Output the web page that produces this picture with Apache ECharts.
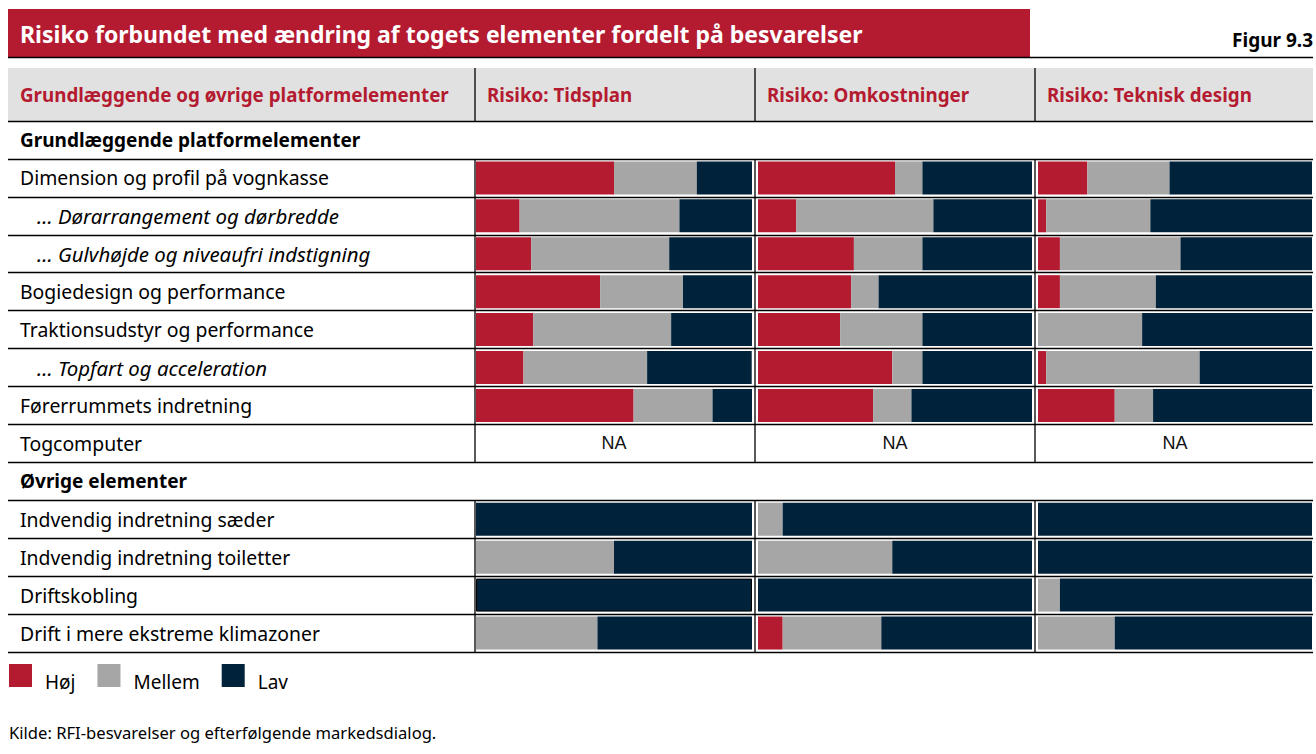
<!DOCTYPE html>
<html><head><meta charset="utf-8">
<script src="https://cdn.jsdelivr.net/npm/echarts@6/dist/echarts.min.js"></script>
<style>html,body{margin:0;padding:0;background:#fff}#c{width:1316px;height:754px}</style>
</head><body><div id="c"></div>
<script>
// ---------- data ----------
const chartTitle = 'Risiko forbundet med ændring af togets elementer fordelt på besvarelser';
const figureLabel = 'Figur 9.3';
const sourceNote = 'Kilde: RFI-besvarelser og efterfølgende markedsdialog.';
const columnTitles = ['Grundlæggende og øvrige platformelementer', 'Risiko: Tidsplan', 'Risiko: Omkostninger', 'Risiko: Teknisk design'];
const levelNames = ['Høj', 'Mellem', 'Lav'];
const naText = 'NA';
const rowLabels = [
  'Grundlæggende platformelementer',
  'Dimension og profil på vognkasse',
  '… Dørarrangement og dørbredde',
  '… Gulvhøjde og niveaufri indstigning',
  'Bogiedesign og performance',
  'Traktionsudstyr og performance',
  '… Topfart og acceleration',
  'Førerrummets indretning',
  'Togcomputer',
  'Øvrige elementer',
  'Indvendig indretning sæder',
  'Indvendig indretning toiletter',
  'Driftskobling',
  'Drift i mere ekstreme klimazoner'
];
const rowKinds = ['section', 'main', 'sub', 'sub', 'main', 'main', 'sub', 'main', 'main', 'section', 'main', 'main', 'main', 'main'];

// Risiko: Tidsplan (share of answers, %)
const tidsplanHoej   = [null, 50, 15.8, 20, 45, 20.7, 17.2, 57.1, null, null, 0, 0, 0, 0];
const tidsplanMellem = [null, 30, 57.9, 50, 30, 50, 44.8, 28.6, null, null, 0, 50, 0, 44];
const tidsplanLav    = [null, 20, 26.3, 30, 25, 29.3, 37.9, 14.3, null, null, 100, 50, 100, 56];
// Risiko: Omkostninger
const omkHoej   = [null, 50, 14, 35, 34, 30, 49, 42, null, null, 0, 0, 0, 9];
const omkMellem = [null, 10, 50, 25, 10, 30, 11, 14, null, null, 9, 49, 0, 36];
const omkLav    = [null, 40, 36, 40, 56, 40, 40, 44, null, null, 91, 51, 100, 55];
// Risiko: Teknisk design
const tekHoej   = [null, 18, 3, 8, 8, 0, 3, 28, null, null, 0, 0, 0, 0];
const tekMellem = [null, 30, 38, 44, 35, 38, 56, 14, null, null, 0, 0, 8, 28];
const tekLav    = [null, 52, 59, 48, 57, 62, 41, 58, null, null, 100, 100, 92, 72];

// ---------- layout / style ----------
const FONT = "'Noto Sans', sans-serif";
const levelColors = ['#B41A30', '#A6A6A6', '#00223A'];
const TABLE_L = 8, TABLE_R = 1313, HEAD_T = 68, GRID_T = 121, GRID_H = 531;
const rowH = GRID_H / rowLabels.length;
const colLines = [475, 755, 1035];
const headerTextX = [20, 487, 767, 1047];
const barGrids = [{left: 476, width: 276}, {left: 758, width: 274}, {left: 1038, width: 274}];
const columns = [
  [tidsplanHoej, tidsplanMellem, tidsplanLav],
  [omkHoej, omkMellem, omkLav],
  [tekHoej, tekMellem, tekLav]
];
// cell drawn with a thin black outline in the original (column index, row label)
const outlinedCell = {col: 0, row: 'Driftskobling'};

const grids = [{left: TABLE_L, top: GRID_T, width: TABLE_R - TABLE_L, height: GRID_H}];
barGrids.forEach(g => grids.push({left: g.left, top: GRID_T, width: g.width, height: GRID_H}));

const xAxes = grids.map((g, i) => ({type: 'value', gridIndex: i, min: 0, max: i === 0 ? 1 : 100, show: false}));
const yAxes = grids.map((g, i) => i === 0 ? {
  type: 'category', gridIndex: 0, inverse: true, data: rowLabels,
  axisLine: {show: false}, axisTick: {show: false},
  splitLine: {show: true, lineStyle: {color: '#000', width: 1.3}},
  axisLabel: {
    inside: true, margin: 12, color: '#000', fontFamily: FONT, fontSize: 19.4,
    formatter: (v, idx) => '{' + rowKinds[idx] + '|' + v + '}',
    rich: {
      section: {fontWeight: 'bold', fontSize: 19, fontFamily: FONT, color: '#000'},
      main: {fontSize: 19.4, fontFamily: FONT, color: '#000'},
      sub: {fontStyle: 'italic', fontSize: 20.4, fontFamily: FONT, color: '#000', padding: [0, 0, 0, 17]}
    }
  }
} : {type: 'category', gridIndex: i, inverse: true, data: rowLabels, show: false});

const series = [];
columns.forEach((col, ci) => {
  col.forEach((vals, li) => {
    const data = vals.map((v, ri) => {
      const last = li === col.length - 1;
      if (last && ci === outlinedCell.col && rowLabels[ri] === outlinedCell.row) {
        return {value: v, itemStyle: {borderColor: '#000', borderWidth: 1}};
      }
      return v;
    });
    series.push({
      type: 'bar', name: levelNames[li], xAxisIndex: ci + 1, yAxisIndex: ci + 1,
      stack: 'col' + ci, barWidth: 33, data: data,
      itemStyle: {color: levelColors[li]}, emphasis: {disabled: true}
    });
  });
  const naData = rowLabels.map((r, ri) => (rowKinds[ri] !== 'section' && col.every(v => v[ri] == null)) ? 100 : null);
  series.push({
    type: 'bar', name: naText, xAxisIndex: ci + 1, yAxisIndex: ci + 1,
    stack: 'col' + ci, barWidth: 33, data: naData, silent: true,
    itemStyle: {color: 'rgba(0,0,0,0)'}, emphasis: {disabled: true},
    label: {show: true, position: 'inside', formatter: naText, color: '#111', fontSize: 18, fontFamily: "'Liberation Sans', Arial, sans-serif"}
  });
});

// ---------- decorations ----------
const graphics = [];
graphics.push({type: 'rect', shape: {x: TABLE_L, y: 9, width: 1022, height: 48}, style: {fill: '#B41A30'}, z: 0});
graphics.push({type: 'line', shape: {x1: TABLE_L, y1: 57.5, x2: TABLE_R, y2: 57.5}, style: {stroke: '#000', lineWidth: 1.5}, z: 1});
graphics.push({type: 'text', x: TABLE_R, y: 40, style: {text: figureLabel, fill: '#000', font: 'bold 19px ' + FONT, textAlign: 'right', textVerticalAlign: 'middle'}, z: 1});
graphics.push({type: 'rect', shape: {x: TABLE_L, y: HEAD_T, width: TABLE_R - TABLE_L, height: GRID_T - HEAD_T}, style: {fill: '#E1E1E1'}, z: 0});
columnTitles.forEach((t, i) => {
  graphics.push({type: 'text', x: headerTextX[i], y: 95, style: {text: t, fill: '#B41A30', font: 'bold 18.8px ' + FONT, textVerticalAlign: 'middle'}, z: 1});
});
colLines.forEach(x => {
  graphics.push({type: 'line', shape: {x1: x, y1: HEAD_T, x2: x, y2: GRID_T}, style: {stroke: '#000', lineWidth: 1.3}, z: 1});
  let start = null;
  rowKinds.concat(['section']).forEach((k, ri) => {
    if (k !== 'section' && start === null) start = ri;
    if (k === 'section' && start !== null) {
      graphics.push({type: 'line', shape: {x1: x, y1: GRID_T + start * rowH, x2: x, y2: GRID_T + ri * rowH}, style: {stroke: '#000', lineWidth: 1.3}, z: 1});
      start = null;
    }
  });
});
graphics.push({type: 'text', x: 9, y: 732, style: {text: sourceNote, fill: '#000', font: '16.6px ' + FONT, textVerticalAlign: 'middle'}, z: 1});

const chart = echarts.init(document.getElementById('c'), null, {renderer: 'svg'});
chart.setOption({
  animation: false,
  backgroundColor: '#fff',
  title: {text: chartTitle, left: 20, top: 22, padding: 0, z: 10, textStyle: {color: '#fff', fontWeight: 'bold', fontSize: 23, fontFamily: FONT}},
  legend: {
    data: levelNames, left: 9, top: 664, padding: 0, icon: 'rect', itemWidth: 23, itemHeight: 23, itemGap: 22,
    selectedMode: false,
    formatter: name => '{t|' + name + '}',
    textStyle: {
      fontSize: 19, fontFamily: FONT, color: '#000', padding: [0, 0, 0, 8],
      rich: {t: {fontSize: 19, fontFamily: FONT, color: '#000', padding: [13, 0, 0, 0]}}
    }
  },
  grid: grids,
  xAxis: xAxes,
  yAxis: yAxes,
  series: series,
  graphic: graphics
});
</script></body></html>
